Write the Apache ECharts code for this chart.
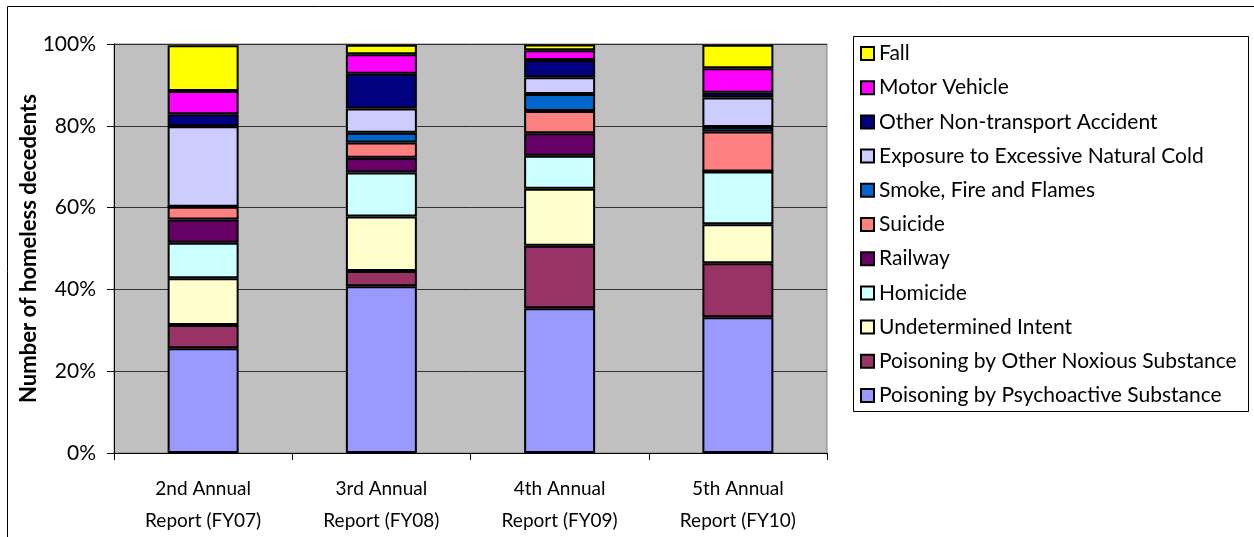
<!DOCTYPE html>
<html>
<head>
<meta charset="utf-8">
<script src="https://cdn.jsdelivr.net/npm/echarts@6/dist/echarts.min.js"></script>
<style>html,body{margin:0;padding:0;background:#fff;}#c{width:1254px;height:537px;}</style>
</head>
<body>
<div id="c"></div>
<script>
const categories = ['2nd Annual\nReport (FY07)', '3rd Annual\nReport (FY08)', '4th Annual\nReport (FY09)', '5th Annual\nReport (FY10)'];
const yTicks = [0, 20, 40, 60, 80, 100];

const psychoactive = [25.6, 40.8, 35.4, 33.2];
const otherNoxious = [5.7, 3.7, 15.3, 13.2];
const undetermined = [11.4, 13.3, 13.9, 9.5];
const homicide = [8.7, 10.8, 8.1, 12.9];
const railway = [5.7, 3.6, 5.5, 0];
const suicide = [3.1, 3.7, 5.4, 9.8];
const smokeFire = [0, 2.4, 4.2, 1.1];
const exposureCold = [19.7, 5.9, 4.1, 7.2];
const otherNonTransport = [2.9, 8.5, 4.2, 1.2];
const motorVehicle = [5.7, 4.8, 2.4, 6.0];
const fall = [11.2, 2.3, 1.4, 5.7];

const seriesNames = ['Poisoning by Psychoactive Substance', 'Poisoning by Other Noxious Substance', 'Undetermined Intent', 'Homicide', 'Railway', 'Suicide', 'Smoke, Fire and Flames', 'Exposure to Excessive Natural Cold', 'Other Non-transport Accident', 'Motor Vehicle', 'Fall'];
const seriesData = [psychoactive, otherNoxious, undetermined, homicide, railway, suicide, smokeFire, exposureCold, otherNonTransport, motorVehicle, fall];
const seriesColors = ['#9999FF', '#993366', '#FFFFCC', '#CCFFFF', '#660066', '#FF8080', '#0066CC', '#CCCCFF', '#000080', '#FF00FF', '#FFFF00'];

const FONT = 'Lato';
const chart = echarts.init(document.getElementById('c'), null, {renderer: 'canvas'});
chart.setOption({
  animation: false,
  backgroundColor: '#fff',
  grid: {left: 114, right: 427, top: 44, bottom: 84, show: true, backgroundColor: '#C0C0C0', borderColor: '#808080', borderWidth: 1},
  legend: {
    orient: 'vertical', left: 860, top: 43, padding: 0,
    itemWidth: 13, itemHeight: 13, itemGap: 13.2,
    icon: 'rect',
    data: seriesNames.slice().reverse(),
    itemStyle: {borderColor: '#000', borderWidth: 2},
    textStyle: {fontFamily: FONT, fontSize: 21, color: '#000', lineHeight: 21}
  },
  graphic: [
    {type: 'rect', shape: {x: 853.5, y: 36.5, width: 395, height: 375}, style: {fill: 'none', stroke: '#000', lineWidth: 1}, z: 0},
    {type: 'line', shape: {x1: 7.5, y1: 6.5, x2: 1254, y2: 6.5}, style: {stroke: '#000', lineWidth: 1}},
    {type: 'line', shape: {x1: 7.5, y1: 6.5, x2: 7.5, y2: 537}, style: {stroke: '#000', lineWidth: 1}}
  ],
  xAxis: {
    type: 'category', data: categories,
    axisLine: {lineStyle: {color: '#000', width: 1}},
    axisTick: {show: true, length: 7, lineStyle: {color: '#000'}},
    axisLabel: {fontFamily: FONT, fontSize: 19, color: '#000', lineHeight: 32, margin: 20}
  },
  yAxis: {
    type: 'value', min: 0, max: 100, interval: 20,
    name: 'Number of homeless decedents', nameLocation: 'middle', nameGap: 74, nameMoveOverlap: false,
    nameTextStyle: {fontFamily: FONT, fontSize: 22, fontWeight: 'bold', color: '#000'},
    axisLine: {show: true, lineStyle: {color: '#000', width: 1}},
    axisTick: {show: true, length: 7, lineStyle: {color: '#000'}},
    axisLabel: {fontFamily: FONT, fontSize: 21, color: '#000', margin: 18, formatter: v => yTicks.includes(v) ? v + '%' : ''},
    splitLine: {show: true, lineStyle: {color: '#303030', width: 1}}
  },
  series: seriesNames.map((n, i) => ({
    name: n, type: 'bar', stack: 'total', barWidth: 71,
    data: seriesData[i],
    itemStyle: {color: seriesColors[i], borderColor: '#000', borderWidth: 2}
  }))
});
</script>
</body>
</html>
